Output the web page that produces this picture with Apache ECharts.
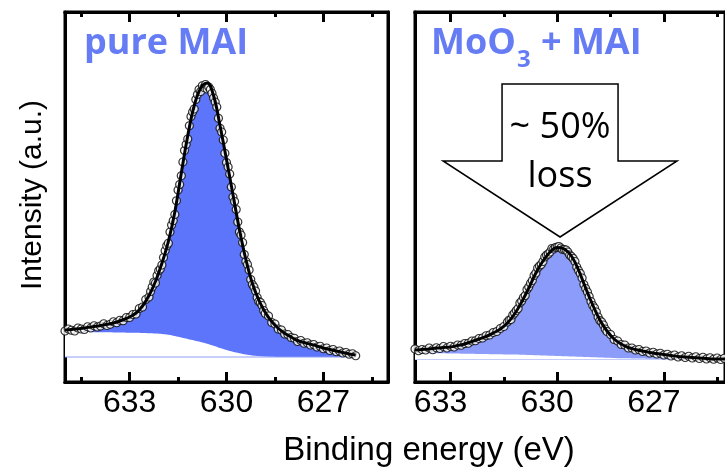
<!DOCTYPE html>
<html>
<head>
<meta charset="utf-8">
<script src="https://cdn.jsdelivr.net/npm/echarts@6/dist/echarts.min.js"></script>
<style>
  html, body { margin: 0; padding: 0; background: #fff; }
  #chart { width: 725px; height: 467px; }
</style>
</head>
<body>
<div id="chart"></div>
<script>
// I 3d5/2 core-level spectra: pure MAI film vs MAI on MoO3.
// Points are 0.1 eV apart on the tails and 0.05 eV apart across the peak.

// ---- pure MAI: measured points ----
const pureEnergy = [
  635.0,634.9,634.8,634.7,634.6,634.5,634.4,634.3,634.2,634.1,
  634.0,633.9,633.8,633.7,633.6,633.5,633.4,633.3,633.2,633.1,
  633.0,632.9,632.8,632.7,632.6,632.5,
  632.40,632.35,632.30,632.25,632.20,632.15,632.10,632.05,
  632.00,631.95,631.90,631.85,631.80,631.75,631.70,631.65,631.60,631.55,
  631.50,631.45,631.40,631.35,631.30,631.25,631.20,631.15,631.10,631.05,
  631.00,630.95,630.90,630.85,630.80,630.75,630.70,630.65,630.60,630.55,
  630.50,630.45,630.40,630.35,630.30,630.25,630.20,630.15,630.10,630.05,
  630.00,629.95,629.90,629.85,629.80,629.75,629.70,629.65,629.60,629.55,
  629.50,629.45,629.40,629.35,629.30,629.25,629.20,629.15,629.10,629.05,
  629.00,628.95,628.90,628.85,628.80,
  628.7,628.6,628.5,628.4,628.3,628.2,628.1,628.0,627.9,627.8,
  627.7,627.6,627.5,627.4,627.3,627.2,627.1,627.0,626.9,626.8,
  626.7,626.6,626.5,626.4,626.3,626.2,626.1,626.0
];
const pureCounts = [
  104,112,107,104,116,112,110,121,116,125,
  120,124,133,126,131,141,137,147,145,158,
  158,170,172,194,200,230,
  240,262,280,300,296,326,345,352,
  368,398,425,445,455,500,528,545,570,625,
  668,690,725,780,826,850,872,925,962,980,
  992,1030,1050,1070,1062,1085,1078,1090,1072,1080,
  1070,1055,1036,1020,1000,955,915,900,868,815,
  778,760,732,680,640,622,590,540,500,488,
  458,410,382,370,348,310,290,280,264,238,
  222,218,206,186,174,
  164,138,132,112,108,92,90,78,75,62,
  66,55,57,48,50,40,43,33,36,26,
  30,21,24,16,18,11,13,5
];

// ---- pure MAI: fit envelope and background (0.2 eV steps) ----
const pureFitEnergy = [
  635.0,634.8,634.6,634.4,634.2,634.0,633.8,633.6,633.4,633.2,
  633.0,632.8,632.6,632.4,632.2,632.0,631.8,631.6,631.4,631.2,
  631.0,630.8,630.6,630.4,630.2,630.0,629.8,629.6,629.4,629.2,
  629.0,628.8,628.6,628.4,628.2,628.0,627.8,627.6,627.4,627.2,
  627.0,626.8,626.6,626.4,626.2,626.0
];
const pureFit = [
  108,110,113,116,120,124,128,133,140,149,
  160,176,204,246,302,375,462,580,735,885,
  1005,1075,1096,1045,925,790,650,510,390,295,
  228,178,142,115,95,80,66,58,51,44,
  36,30,24,18,12,8
];
const pureBackground = [
  100,100,100,100,100,99,99,99,98,98,
  97,97,96,95,94,92,89,84,78,72,
  66,60,53,45,36,28,21,15,10,6,
  4,2,1,0,0,0,0,0,0,0,
  0,0,0,0,0,0
];

// ---- MoO3 + MAI: measured points ----
const mixEnergy = [
  634.0,633.9,633.8,633.7,633.6,633.5,633.4,633.3,633.2,633.1,
  633.0,632.9,632.8,632.7,632.6,632.5,632.4,632.3,632.2,632.1,
  632.0,631.9,631.8,631.7,631.6,631.5,
  631.40,631.35,631.30,631.25,631.20,631.15,631.10,631.05,631.00,630.95,
  630.90,630.85,630.80,630.75,630.70,630.65,630.60,630.55,630.50,630.45,
  630.40,630.35,630.30,630.25,630.20,630.15,630.10,630.05,630.00,629.95,
  629.90,629.85,629.80,629.75,629.70,629.65,629.60,629.55,629.50,629.45,
  629.40,629.35,629.30,629.25,629.20,629.15,629.10,629.05,629.00,628.95,
  628.90,628.85,628.80,628.75,628.70,628.65,628.60,
  628.5,628.4,628.3,628.2,628.1,628.0,627.9,627.8,627.7,627.6,
  627.5,627.4,627.3,627.2,627.1,627.0,626.9,626.8,626.7,626.6,
  626.5,626.4,626.3,626.2,626.1,626.0,625.9,625.8,625.7,625.6,
  625.5,625.4,625.3,625.2
];
const mixCounts = [
  42,35,40,38,46,39,47,44,52,46,
  53,50,58,57,64,65,74,75,84,86,
  95,98,108,112,124,132,
  150,158,160,178,186,196,204,226,234,248,
  256,280,290,305,316,336,346,366,374,380,
  392,410,418,422,430,444,442,448,450,452,
  446,440,440,438,430,418,412,404,392,370,
  356,344,326,300,284,270,252,232,216,206,
  190,170,156,150,138,122,112,
  100,80,74,60,58,46,46,38,40,32,
  34,26,29,22,25,18,21,14,18,10,
  15,8,13,6,11,4,9,2,7,1,
  6,0,5,-1
];

// ---- MoO3 + MAI: fit envelope and background (0.2 eV steps) ----
const mixFitEnergy = [
  634.0,633.8,633.6,633.4,633.2,633.0,632.8,632.6,632.4,632.2,
  632.0,631.8,631.6,631.4,631.2,631.0,630.8,630.6,630.4,630.2,
  630.0,629.8,629.6,629.4,629.2,629.0,628.8,628.6,628.4,628.2,
  628.0,627.8,627.6,627.4,627.2,627.0,626.8,626.6,626.4,626.2,
  626.0,625.8,625.6,625.4,625.2
];
const mixFit = [
  38,40,42,46,48,50,56,62,72,82,
  92,106,122,146,182,230,286,346,394,430,
  448,442,414,358,286,218,158,114,82,62,
  48,40,34,28,24,20,16,12,10,8,
  6,4,2,2,2
];
const mixBackground = [
  26,26,25,25,25,24,24,23,23,22,
  22,21,21,20,20,19,18,17,16,15,
  14,13,12,11,10,9,8,7,6,5,
  5,4,4,3,3,3,2,2,2,1,
  1,1,0,0,0
];

// ---- axis ticks and texts ----
const majorTicks = [633, 630, 627];
const minorTicks = [634.5, 631.5, 628.5, 625.5];
const panelNames = ['pure MAI', 'MoO3 + MAI'];
const arrowText = ['~ 50%', 'loss'];
const arrowTip = [629.92, 490];
const xTitle = 'Binding energy (eV)';
const yTitle = 'Intensity (a.u.)';

const FONT = '"Liberation Sans", Arial, sans-serif';
const LABEL_FONT = '"Open Sans", "Noto Sans", sans-serif';

function pairs(xs, ys) { return xs.map((x, i) => [x, ys[i]]); }

function xAxesFor(gridIndex, min, max, labelPadding) {
  const base = {
    gridIndex, type: 'value', min, max, inverse: true,
    splitLine: { show: false },
    axisLine: { show: true, onZero: false, lineStyle: { color: '#000', width: 3 } }
  };
  const tick = (len, values) => ({
    show: true, inside: true, length: len, customValues: values,
    lineStyle: { color: '#000', width: 3 }
  });
  return [
    Object.assign({}, base, {
      position: 'bottom',
      axisTick: tick(10, majorTicks),
      axisLabel: {
        show: true, customValues: majorTicks, color: '#000',
        fontFamily: FONT, fontSize: 32, margin: 5, padding: labelPadding
      }
    }),
    Object.assign({}, base, { position: 'bottom', axisTick: tick(5, minorTicks), axisLabel: { show: false } }),
    Object.assign({}, base, { position: 'top', axisTick: tick(10, majorTicks), axisLabel: { show: false } }),
    Object.assign({}, base, { position: 'top', axisTick: tick(5, minorTicks), axisLabel: { show: false } })
  ];
}

function yAxesFor(gridIndex, min, max) {
  const base = {
    gridIndex, type: 'value', min, max,
    axisTick: { show: false }, axisLabel: { show: false }, splitLine: { show: false },
    axisLine: { show: true, onZero: false, lineStyle: { color: '#000', width: 3 } }
  };
  return [
    Object.assign({}, base, { position: 'left' }),
    Object.assign({}, base, { position: 'right' })
  ];
}

function panelSeries(xi, yi, fitE, fit, bg, E, counts, fillColor, baseColor) {
  const common = { xAxisIndex: xi, yAxisIndex: yi, symbol: 'none', silent: true };
  return [
    Object.assign({}, common, {
      type: 'line', data: pairs(fitE, fit), smooth: 0.4, z: 1,
      lineStyle: { opacity: 0 }, areaStyle: { color: fillColor, opacity: 1 }
    }),
    Object.assign({}, common, {
      type: 'line', data: pairs(fitE, bg), smooth: 0.4, z: 2,
      lineStyle: { opacity: 0 }, areaStyle: { color: '#fff', opacity: 1 }
    }),
    Object.assign({}, common, {
      type: 'line', data: [[E[0], 0], [E[E.length - 1], 0]], z: 3,
      lineStyle: { color: baseColor, width: 1 }
    }),
    {
      type: 'scatter', xAxisIndex: xi, yAxisIndex: yi, data: pairs(E, counts), z: 4,
      symbol: 'circle', symbolSize: 8, silent: true,
      itemStyle: { color: '#fff', borderColor: '#000', borderWidth: 1.2 }
    },
    Object.assign({}, common, {
      type: 'line', data: pairs(fitE, fit), smooth: 0.4, z: 5,
      lineStyle: { color: '#000', width: 3 }
    })
  ];
}

const chart = echarts.init(document.getElementById('chart'), null, { renderer: 'canvas' });

const option = {
  animation: false,
  backgroundColor: '#fff',
  grid: [
    { left: 65, right: 337, top: 12, bottom: 85, show: true, borderColor: '#000', borderWidth: 3, backgroundColor: 'rgba(0,0,0,0)' },
    { left: 415, right: -4, top: 12, bottom: 85, show: true, borderColor: '#000', borderWidth: 3, backgroundColor: 'rgba(0,0,0,0)' }
  ],
  xAxis: [].concat(
    xAxesFor(0, 625, 635, [0, 0, 0, 0]),
    xAxesFor(1, 625.28, 634, [0, 20, 0, 0])
  ),
  yAxis: [].concat(
    yAxesFor(0, -100, 1380),
    yAxesFor(1, -90, 1390)
  ),
  series: [].concat(
    panelSeries(0, 0, pureFitEnergy, pureFit, pureBackground, pureEnergy, pureCounts, '#5d75fb', '#8d9df6'),
    panelSeries(4, 2, mixFitEnergy, mixFit, mixBackground, mixEnergy, mixCounts, '#8b9cfa', '#c5cdfb')
  )
};
chart.setOption(option);

// Annotations: panel names, axis titles, and the block arrow over the MoO3 + MAI peak.
const tip = chart.convertToPixel({ gridIndex: 1 }, arrowTip);
const tx = tip[0], ty = tip[1];
const titleColor = '#667cf5';

chart.setOption({
  graphic: [
    {
      type: 'text', left: 84, top: 26, z: 100,
      style: { text: panelNames[0], fill: titleColor, font: 'bold 36px ' + LABEL_FONT }
    },
    {
      type: 'text', left: 431, top: 26, z: 100,
      style: {
        text: '{a|MoO}{s|3}{a| + MAI}',
        rich: {
          a: { fill: titleColor, fontFamily: LABEL_FONT, fontWeight: 'bold', fontSize: 36, lineHeight: 42, verticalAlign: 'bottom' },
          s: { fill: titleColor, fontFamily: LABEL_FONT, fontWeight: 'bold', fontSize: 24, lineHeight: 30, verticalAlign: 'bottom', padding: [0, 1, -10, 1] }
        }
      }
    },
    {
      type: 'polygon', z: 90,
      shape: {
        points: [
          [tx - 58, ty - 153], [tx + 58, ty - 153], [tx + 58, ty - 76], [tx + 117, ty - 76],
          [tx, ty], [tx - 117, ty - 76], [tx - 58, ty - 76]
        ]
      },
      style: { fill: '#fff', stroke: '#000', lineWidth: 1.5 }
    },
    {
      type: 'text', x: tx, y: ty - 109, z: 100,
      style: { text: arrowText[0], fill: '#000', font: '36px ' + LABEL_FONT, align: 'center', verticalAlign: 'middle' }
    },
    {
      type: 'text', x: tx, y: ty - 60, z: 100,
      style: { text: arrowText[1], fill: '#000', font: '36px ' + LABEL_FONT, align: 'center', verticalAlign: 'middle' }
    },
    {
      type: 'text', x: 429, y: 451, z: 100,
      style: { text: xTitle, fill: '#000', font: '33px ' + FONT, align: 'center', verticalAlign: 'middle' }
    },
    {
      type: 'text', x: 33, y: 195, rotation: Math.PI / 2, z: 100,
      style: { text: yTitle, fill: '#000', font: '30px ' + FONT, align: 'center', verticalAlign: 'middle' }
    }
  ]
});
</script>
</body>
</html>
